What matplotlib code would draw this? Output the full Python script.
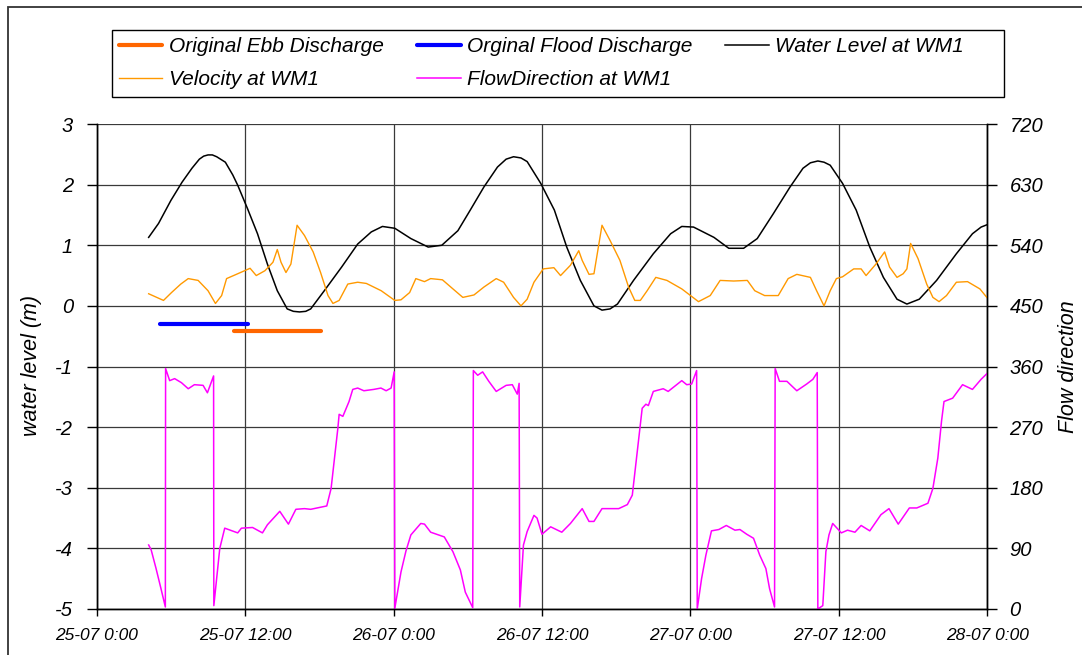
import numpy as np
import matplotlib
matplotlib.use('Agg')
import matplotlib.pyplot as plt
from matplotlib.lines import Line2D
from matplotlib.patches import Rectangle

plt.rcParams['font.family'] = ['Liberation Sans', 'DejaVu Sans']
plt.rcParams['font.style'] = 'italic'
plt.rcParams['axes.unicode_minus'] = False

# hours since 25-07 0:00
tick_hours = [0, 12, 24, 36, 48, 60, 72]
tick_labels = ['25-07 0:00', '25-07 12:00', '26-07 0:00', '26-07 12:00',
               '27-07 0:00', '27-07 12:00', '28-07 0:00']

# water level at WM1 (m)
wl_h = [4.2, 5.0, 6.0, 6.9, 7.7, 8.3, 8.65, 9.0, 9.35, 9.7, 10.4, 11.0, 11.4, 12.2, 13.0,
        13.8, 14.6, 15.4, 15.9, 16.4, 16.9, 17.3, 18.4, 19.8, 21.1, 22.2, 23.1, 24.1,
        25.4, 26.8, 27.9, 29.2, 30.2, 31.3, 32.4, 33.1, 33.7, 34.3, 34.8, 35.9, 37.0,
        38.0, 39.1, 40.2, 40.85, 41.5, 42.1, 43.4, 45.0, 46.4, 47.3, 48.25, 49.9,
        51.1, 52.3, 53.4, 54.7, 56.05, 57.1, 57.7, 58.3, 58.8, 59.3, 60.3, 61.4,
        62.5, 63.6, 64.7, 65.5, 66.5, 67.9, 69.5, 70.8, 71.5, 72.0]
wl_v = [1.13, 1.36, 1.74, 2.04, 2.27, 2.42, 2.47, 2.49, 2.49, 2.46, 2.37, 2.16, 1.99, 1.60, 1.19,
        0.69, 0.25, -0.05, -0.09, -0.10, -0.09, -0.05, 0.25, 0.64, 1.02, 1.22, 1.31, 1.28,
        1.11, 0.97, 1.00, 1.24, 1.58, 1.96, 2.29, 2.42, 2.46, 2.44, 2.38, 2.02, 1.58,
        0.97, 0.42, 0.00, -0.07, -0.05, 0.03, 0.42, 0.86, 1.19, 1.31, 1.30, 1.13,
        0.95, 0.95, 1.11, 1.52, 1.96, 2.27, 2.36, 2.39, 2.37, 2.32, 2.02, 1.58,
        0.97, 0.47, 0.11, 0.03, 0.11, 0.42, 0.86, 1.19, 1.30, 1.34]

# velocity at WM1
vel_h = [4.2, 5.4, 6.05, 6.8, 7.4, 8.2, 9.0, 9.6, 10.1, 10.5, 11.4, 12.4, 12.9, 13.6,
         14.25, 14.6, 14.9, 15.3, 15.7, 16.2, 16.8, 17.5, 18.1, 18.7, 19.1, 19.6,
         20.3, 21.1, 21.8, 23.0, 24.1, 24.6, 25.3, 25.8, 26.5, 27.0, 27.95, 28.8,
         29.6, 30.5, 31.3, 32.3, 32.9, 33.7, 34.3, 34.8, 35.35, 36.1, 36.96, 37.5,
         38.3, 38.97, 39.25, 39.8, 40.2, 40.85, 41.5, 42.3, 43.0, 43.5, 43.95, 44.5,
         45.2, 46.1, 47.3, 48.65, 49.6, 50.4, 51.5, 52.6, 53.2, 54.0, 55.1, 55.9,
         56.6, 57.7, 58.2, 58.8, 59.3, 59.8, 60.3, 61.2, 61.8, 62.2, 63.0, 63.7,
         64.1, 64.7, 65.2, 65.5, 65.8, 66.4, 67.1, 67.6, 68.1, 68.7, 69.5, 70.4,
         71.4, 72.0]
vel_v = [0.20, 0.09, 0.22, 0.36, 0.45, 0.42, 0.25, 0.04, 0.17, 0.45, 0.53, 0.62, 0.50, 0.58,
         0.72, 0.93, 0.72, 0.55, 0.69, 1.33, 1.16, 0.89, 0.55, 0.17, 0.04, 0.09,
         0.36, 0.39, 0.37, 0.25, 0.09, 0.10, 0.22, 0.45, 0.40, 0.45, 0.43, 0.28,
         0.14, 0.18, 0.31, 0.45, 0.39, 0.14, 0.00, 0.11, 0.39, 0.61, 0.63, 0.50,
         0.67, 0.91, 0.75, 0.52, 0.53, 1.33, 1.08, 0.75, 0.31, 0.09, 0.09, 0.25,
         0.47, 0.42, 0.28, 0.07, 0.17, 0.42, 0.41, 0.42, 0.25, 0.17, 0.17, 0.45,
         0.52, 0.47, 0.25, 0.00, 0.25, 0.45, 0.48, 0.61, 0.61, 0.50, 0.69, 0.89,
         0.64, 0.47, 0.53, 0.61, 1.03, 0.78, 0.36, 0.14, 0.07, 0.17, 0.39, 0.40,
         0.28, 0.13]

# flow direction at WM1 (degrees, right axis)
dir_h = [4.2, 4.4, 4.8, 5.2, 5.55, 5.57, 5.9, 6.3, 6.85, 7.4, 7.9, 8.6, 8.95, 9.45, 9.47,
         9.95, 10.35, 11.4, 11.7, 12.6, 13.4, 13.8, 14.8, 15.5, 16.1, 16.8, 17.3,
         18.6, 18.95, 19.5, 19.6, 19.9, 20.4, 20.7, 21.1, 21.6, 22.4, 22.98, 23.4,
         23.8, 24.05, 24.1, 24.6, 25.0, 25.4, 26.2, 26.5, 27.0, 28.1, 28.8, 29.4,
         29.8, 30.4, 30.45, 30.8, 31.2, 31.7, 32.3, 33.1, 33.6, 34.0, 34.15, 34.2,
         34.5, 34.8, 35.35, 35.6, 36.0, 36.7, 37.6, 38.3, 39.25, 39.8, 40.2, 40.85,
         42.2, 42.9, 43.3, 43.7, 44.1, 44.4, 44.6, 45.0, 45.8, 46.2, 47.3, 47.7,
         48.1, 48.5, 48.55, 48.9, 49.25, 49.7, 50.3, 50.9, 51.6, 52.0, 52.55, 53.1,
         53.6, 54.1, 54.4, 54.8, 54.85, 55.2, 55.8, 56.6, 57.4, 57.9, 58.25, 58.3,
         58.7, 58.95, 59.2, 59.5, 60.2, 60.7, 61.3, 61.8, 62.5, 63.4, 64.05, 64.8,
         65.7, 66.3, 67.2, 67.6, 68.0, 68.3, 68.5, 69.2, 70.0, 70.8, 71.5, 72.0]
dir_v = [95, 88, 60, 30, 3, 357, 339, 342, 336, 327, 333, 332, 321, 346, 5,
         90, 120, 113, 120, 121, 113, 125, 145, 126, 148, 149, 148,
         153, 179, 269, 289, 286, 308, 326, 328, 324, 326, 328, 324,
         328, 352, 1, 55, 86, 110, 127, 126, 114, 107, 85, 58,
         25, 2, 354, 347, 352, 338, 323, 332, 333, 319, 335, 3,
         95, 115, 139, 135, 111, 122, 114, 127, 149, 130, 130, 149,
         149, 155, 169, 234, 298, 304, 302, 323, 327, 323, 339, 333,
         334, 354, 0, 45, 80, 116, 118, 124, 117, 118, 111, 105,
         80, 60, 30, 3, 357, 338, 338, 324, 334, 341, 351, 0,
         5, 85, 110, 127, 113, 117, 114, 124, 116, 140, 149, 126,
         150, 150, 157, 179, 224, 279, 308, 313, 333, 326, 341, 350]

# original discharge periods
ebb_h = [11.1, 18.1]
ebb_v = [-0.41, -0.41]
flood_h = [5.1, 12.2]
flood_v = [-0.30, -0.30]

W, H = 1082, 655
fig = plt.figure(figsize=(W / 100, H / 100), dpi=100)
ax = fig.add_axes([96.7 / W, 1 - 609 / H, (987.3 - 96.7) / W, (609 - 124) / H])
ax2 = ax.twinx()

ax.plot(flood_h, flood_v, color='#0000ff', lw=3.0, solid_capstyle='round', zorder=3)
ax.plot(ebb_h, ebb_v, color='#ff6600', lw=3.0, solid_capstyle='round', zorder=3)
ax.plot(wl_h, wl_v, color='black', lw=1.1, zorder=3)
ax.plot(vel_h, vel_v, color='#ff9900', lw=1.0, zorder=3)
ax2.plot(dir_h, dir_v, color='#ff00ff', lw=1.1)

ax.set_xlim(0, 72)
ax.set_ylim(-5, 3)
ax2.set_ylim(0, 720)
ax.set_xticks(tick_hours)
ax.set_xticklabels(tick_labels, fontsize=12.5)
ax.set_yticks(range(-5, 4))
ax2.set_yticks(range(0, 721, 90))
ax.tick_params(axis='y', direction='out', length=7, width=1, labelsize=14.5, pad=10)
ax2.tick_params(axis='y', direction='out', length=7, width=1, labelsize=14.5, pad=9)
ax.tick_params(axis='x', direction='out', length=5, width=1, pad=9)

ax.grid(True, color='#3a3a3a', lw=0.9, zorder=0)
ax.set_axisbelow(True)
for a in (ax, ax2):
    a.spines['top'].set_visible(False)
    for s in ('left', 'right', 'bottom'):
        a.spines[s].set_color('black')
        a.spines[s].set_linewidth(1.0)

fig.text(32 / W, 1 - 366 / H, 'water level (m)', rotation=90, fontsize=15.5,
         ha='center', va='center')
fig.text(1068 / W, 1 - 367 / H, 'Flow direction', rotation=90, fontsize=15.5,
         ha='center', va='center')

handles = [
    Line2D([], [], color='#ff6600', lw=3.0, solid_capstyle='round'),
    Line2D([], [], color='#ff9900', lw=1.0),
    Line2D([], [], color='#0000ff', lw=3.0, solid_capstyle='round'),
    Line2D([], [], color='#ff00ff', lw=1.1),
    Line2D([], [], color='black', lw=1.1),
]
labels = ['Original Ebb Discharge', 'Velocity at WM1', 'Orginal Flood Discharge',
          'FlowDirection at WM1', 'Water Level at WM1']
leg = fig.legend(handles, labels, ncol=3, loc='upper left',
                 bbox_to_anchor=(111.7 / W, 1 - 30 / H),
                 bbox_transform=fig.transFigure, borderaxespad=0, frameon=False,
                 fontsize=15, handlelength=2.1, handletextpad=0.3, labelspacing=0.68,
                 columnspacing=1.6, borderpad=0.33)

# legend frame and outer chart border
fig.patches.append(Rectangle((111.7 / W, 1 - 96.7 / H), (1004 - 111.7) / W, 66.7 / H,
                             transform=fig.transFigure, fill=False, lw=1.0, ec='black'))
fig.patches.append(Rectangle((8 / W, -0.1), 1.2, 1 - 7 / H + 0.1, transform=fig.transFigure,
                             fill=False, lw=1.3, ec='#333333'))

fig.savefig('out.png', dpi=100)
